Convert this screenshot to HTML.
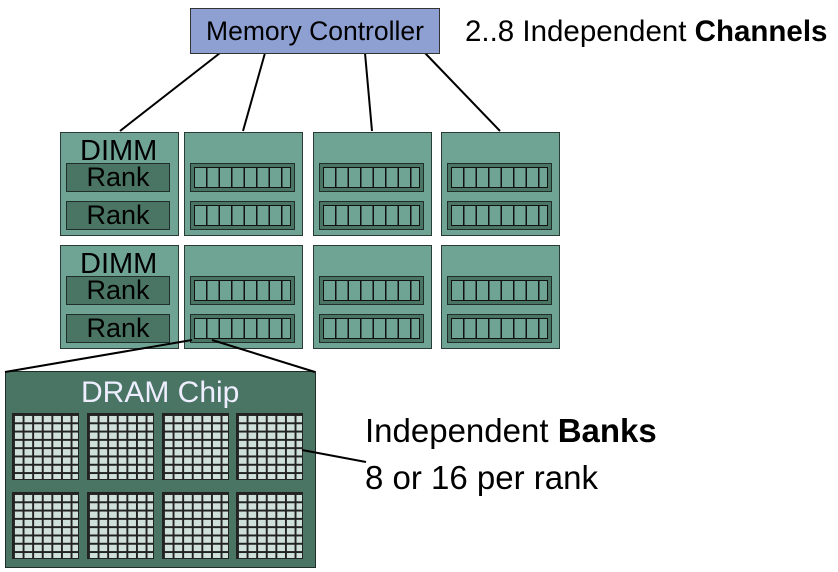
<!DOCTYPE html>
<html><head><style>
body{margin:0;width:838px;height:572px;background:#fff;position:relative;overflow:hidden;font-family:"Liberation Sans",sans-serif}
.a{position:absolute;box-sizing:border-box}
.d{background:#6fa393;border:1.5px solid #2a3a34}
.r{background:#4a7565;border:1.5px solid #1f2e28;font-size:27px;text-align:center;line-height:27px;color:#000}
.s{background:#4a7565;border:1.5px solid #1f2e28}
.c{position:absolute;left:3px;right:3px;top:3px;bottom:3px;border:1.5px solid #111;background:repeating-linear-gradient(90deg,#6fa393 0 11px,#111 11px 12.5px)}
.g{background-color:#cfe0da;border:1.5px solid #222;background-image:linear-gradient(90deg,#222 2px,transparent 2px),linear-gradient(#222 2px,transparent 2px);background-size:9.6px 8.3px}
.t{position:absolute;white-space:nowrap}
</style></head><body>
<svg class="a" style="left:0;top:0" width="838" height="572">
<g stroke="#000" stroke-width="2">
<line x1="220" y1="53" x2="120" y2="131"/><line x1="265" y1="53" x2="243" y2="131"/>
<line x1="365" y1="53" x2="372" y2="131"/><line x1="425" y1="53" x2="500" y2="131"/>
</g></svg>
<div class="a" style="left:190px;top:8px;width:250px;height:46px;background:#8e9fd2;border:1.5px solid #333;font-size:26.5px;text-align:center;line-height:44px">Memory Controller</div>
<div class="t" style="left:465px;top:15px;font-size:29.5px">2..8 Independent <b>Channels</b></div>

<div class="a d" style="left:60px;top:132px;width:119px;height:104px"><div class="t" style="left:19px;top:2px;font-size:29px">DIMM</div></div>
<div class="a r" style="left:66px;top:163px;width:104px;height:29px">Rank</div>
<div class="a r" style="left:66px;top:201px;width:104px;height:29px">Rank</div>
<div class="a d" style="left:184px;top:132px;width:119px;height:104px"></div>
<div class="a d" style="left:313px;top:132px;width:119px;height:104px"></div>
<div class="a d" style="left:441px;top:132px;width:119px;height:104px"></div>
<div class="a d" style="left:60px;top:245px;width:119px;height:104px"><div class="t" style="left:19px;top:2px;font-size:29px">DIMM</div></div>
<div class="a r" style="left:66px;top:276px;width:104px;height:29px">Rank</div>
<div class="a r" style="left:66px;top:314px;width:104px;height:29px">Rank</div>
<div class="a d" style="left:184px;top:245px;width:119px;height:104px"></div>
<div class="a d" style="left:313px;top:245px;width:119px;height:104px"></div>
<div class="a d" style="left:441px;top:245px;width:119px;height:104px"></div>

<div class="a s" style="left:190px;top:163px;width:105px;height:29px"><div class="c"></div></div>
<div class="a s" style="left:190px;top:201px;width:105px;height:29px"><div class="c"></div></div>
<div class="a s" style="left:319px;top:163px;width:105px;height:29px"><div class="c"></div></div>
<div class="a s" style="left:319px;top:201px;width:105px;height:29px"><div class="c"></div></div>
<div class="a s" style="left:447px;top:163px;width:105px;height:29px"><div class="c"></div></div>
<div class="a s" style="left:447px;top:201px;width:105px;height:29px"><div class="c"></div></div>
<div class="a s" style="left:190px;top:276px;width:105px;height:29px"><div class="c"></div></div>
<div class="a s" style="left:190px;top:314px;width:105px;height:29px"><div class="c"></div></div>
<div class="a s" style="left:319px;top:276px;width:105px;height:29px"><div class="c"></div></div>
<div class="a s" style="left:319px;top:314px;width:105px;height:29px"><div class="c"></div></div>
<div class="a s" style="left:447px;top:276px;width:105px;height:29px"><div class="c"></div></div>
<div class="a s" style="left:447px;top:314px;width:105px;height:29px"><div class="c"></div></div>

<div class="a" style="left:5px;top:371px;width:311px;height:197px;background:#4a7565;border:1.5px solid #1f2e28"></div>
<div class="t" style="left:81px;top:376px;font-size:30px;color:#eef">DRAM Chip</div>
<div class="a g" style="left:12px;top:413px;width:67px;height:67px"></div>
<div class="a g" style="left:87px;top:413px;width:67px;height:67px"></div>
<div class="a g" style="left:162px;top:413px;width:67px;height:67px"></div>
<div class="a g" style="left:236px;top:413px;width:67px;height:67px"></div>
<div class="a g" style="left:12px;top:492px;width:67px;height:67px"></div>
<div class="a g" style="left:87px;top:492px;width:67px;height:67px"></div>
<div class="a g" style="left:162px;top:492px;width:67px;height:67px"></div>
<div class="a g" style="left:236px;top:492px;width:67px;height:67px"></div>

<svg class="a" style="left:0;top:0" width="838" height="572">
<g stroke="#000" stroke-width="2">
<line x1="192" y1="340" x2="5" y2="372"/><line x1="212" y1="340" x2="315" y2="372"/>
<line x1="302" y1="450" x2="366" y2="462"/>
</g></svg>

<div class="t" style="left:365px;top:412px;font-size:33px">Independent <b>Banks</b></div>
<div class="t" style="left:365px;top:459px;font-size:33px">8 or 16 per rank</div>
</body></html>
